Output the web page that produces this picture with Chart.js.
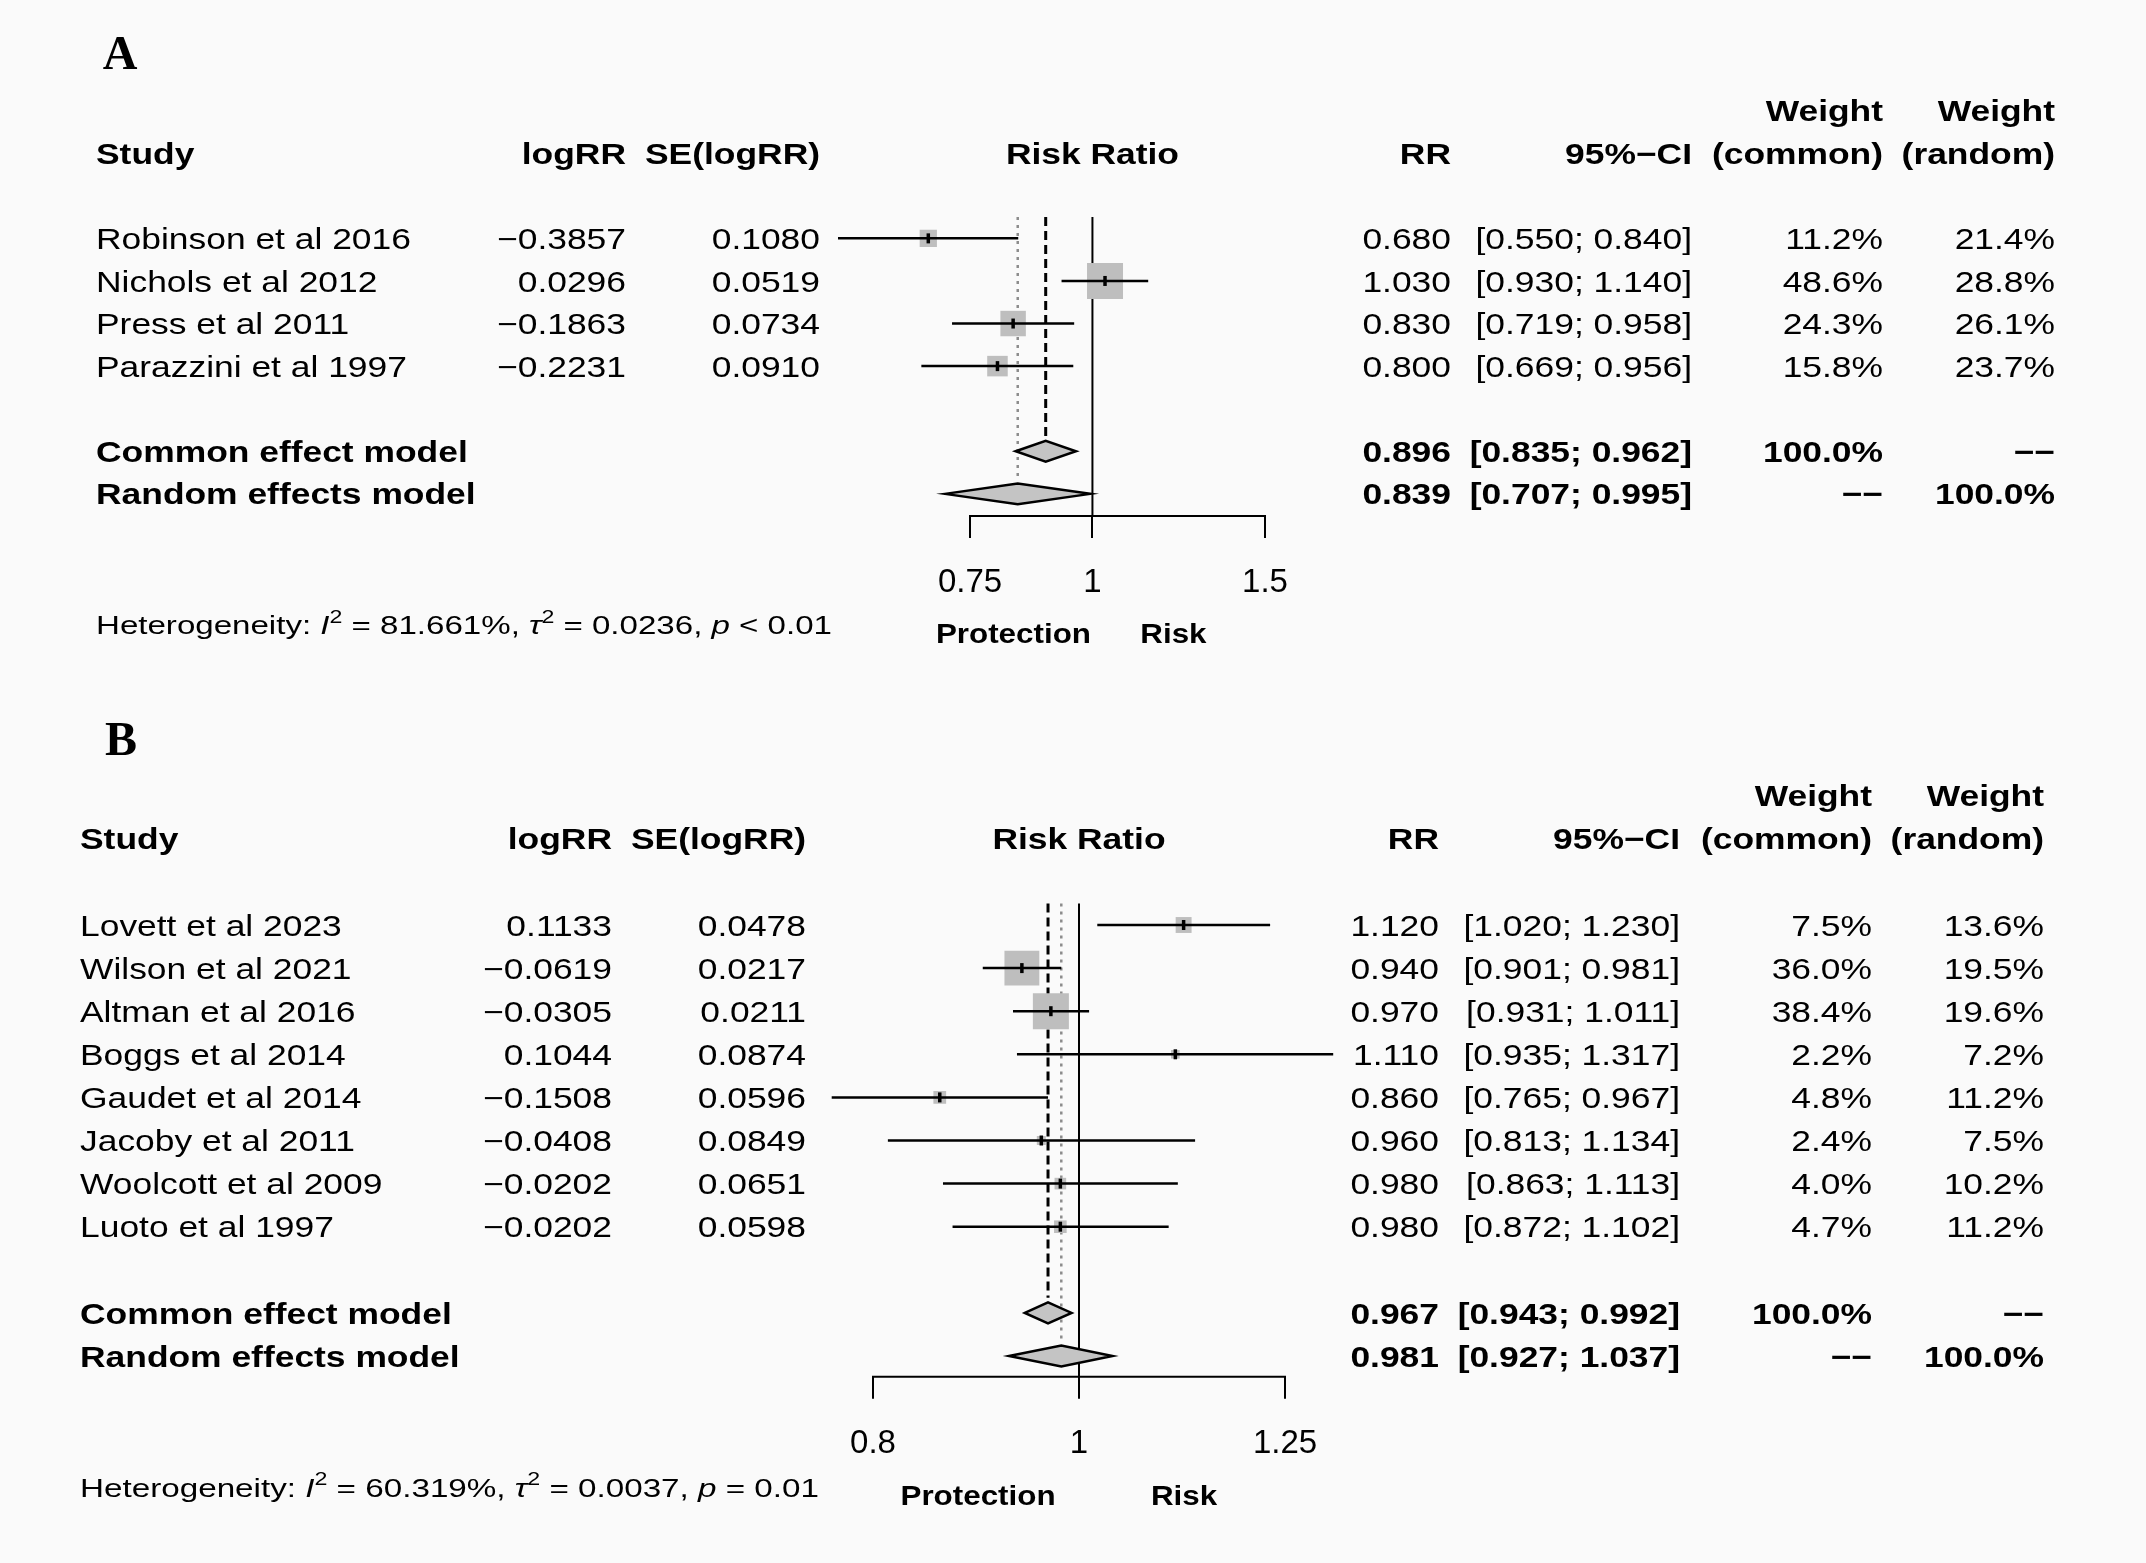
<!DOCTYPE html>
<html>
<head>
<meta charset="utf-8">
<script src="https://cdn.jsdelivr.net/npm/chart.js@4.4.0/dist/chart.umd.min.js"></script>
<style>
  html, body { margin: 0; padding: 0; background: #fafafa; }
  #wrap { position: relative; width: 2146px; height: 1563px; }
  #wrap canvas { position: absolute; left: 0; }
</style>
</head>
<body>
<div id="wrap">
  <canvas id="forest-a" width="2146" height="684" style="top:0px"></canvas>
  <canvas id="forest-b" width="2146" height="879" style="top:684px"></canvas>
</div>
<script>
// ---- A: 数据 ----
const studiesA = ['Robinson et al 2016', 'Nichols et al 2012', 'Press et al 2011', 'Parazzini et al 1997'];
const logRRA = [-0.3857, 0.0296, -0.1863, -0.2231];
const seA = [0.1080, 0.0519, 0.0734, 0.0910];
const rrA = [0.680, 1.030, 0.830, 0.800];
const lowerA = [0.550, 0.930, 0.719, 0.669];
const upperA = [0.840, 1.140, 0.958, 0.956];
const wCommonA = [11.2, 48.6, 24.3, 15.8];
const wRandomA = [21.4, 28.8, 26.1, 23.7];
const commonA = [0.896, 0.835, 0.962];   // 估计值, 下限, 上限
const randomA = [0.839, 0.707, 0.995];
const ticksA = [0.75, 1, 1.5];
const rangeA = [0.5, 1.6];               // 森林图列的 RR 范围
const hetA = ['81.661%', '0.0236', '< 0.01'];

// ---- B: 数据 ----
const studiesB = ['Lovett et al 2023', 'Wilson et al 2021', 'Altman et al 2016', 'Boggs et al 2014',
    'Gaudet et al 2014', 'Jacoby et al 2011', 'Woolcott et al 2009', 'Luoto et al 1997'];
const logRRB = [0.1133, -0.0619, -0.0305, 0.1044, -0.1508, -0.0408, -0.0202, -0.0202];
const seB = [0.0478, 0.0217, 0.0211, 0.0874, 0.0596, 0.0849, 0.0651, 0.0598];
const rrB = [1.120, 0.940, 0.970, 1.110, 0.860, 0.960, 0.980, 0.980];
const lowerB = [1.020, 0.901, 0.931, 0.935, 0.765, 0.813, 0.863, 0.872];
const upperB = [1.230, 0.981, 1.011, 1.317, 0.967, 1.134, 1.113, 1.102];
const wCommonB = [7.5, 36.0, 38.4, 2.2, 4.8, 2.4, 4.0, 4.7];
const wRandomB = [13.6, 19.5, 19.6, 7.2, 11.2, 7.5, 10.2, 11.2];
const commonB = [0.967, 0.943, 0.992];
const randomB = [0.981, 0.927, 1.037];
const ticksB = [0.8, 1, 1.25];
const rangeB = [0.7, 1.4];
const hetB = ['60.319%', '0.0037', '= 0.01'];

const pooledLabels = ['Common effect model', 'Random effects model'];

const FONT = '"Liberation Sans", Arial, Helvetica, sans-serif';
const SX = 1.2; // 原图文字横向偏宽
const DASH2 = '\u2212\u2212';

// 版面位置 (像素)
const layoutA = {
    letter: 'A', letterX: 120, letterY: 53, top: 0, height: 684,
    colStudy: 96, colLog: 626, colSE: 820, colRR: 1451, colCI: 1692, colWC: 1883, colWR: 2055,
    axisLeft: 970, axisRight: 1265, row0: 236.7, rowH: 42.84, axisY: 516,
    hetY: 625, hetW: 736, labY: 633, protDx: -79, riskDx: 81, boxMax: 36
};
const layoutB = {
    letter: 'B', letterX: 121, letterY: 739, top: 684, height: 879,
    colStudy: 80, colLog: 612, colSE: 806, colRR: 1439, colCI: 1680, colWC: 1872, colWR: 2044,
    axisLeft: 873, axisRight: 1285, row0: 925, rowH: 43.1, axisY: 1376.7,
    hetY: 1487.6, hetW: 739, labY: 1495, protDx: -101, riskDx: 105, boxMax: 36
};

function fmtNum(v, d) {
    const s = Math.abs(v).toFixed(d);
    return v < 0 ? '\u2212' + s : s;
}
function fmtCI(lo, hi) { return '[' + lo.toFixed(3) + '; ' + hi.toFixed(3) + ']'; }
function fmtW(w) { return w.toFixed(1) + '%'; }

// 画文字 (按行中心对齐)
function drawText(ctx, s, x, y, align, bold, size, sx) {
    size = size || 29.5;
    sx = sx || SX;
    ctx.save();
    ctx.font = (bold ? 'bold ' : '') + size + 'px ' + FONT;
    const w = ctx.measureText(s).width * sx;
    const x0 = align === 'right' ? x - w : (align === 'center' ? x - w / 2 : x);
    ctx.translate(x0, y + 0.36 * size);
    ctx.scale(sx, 1);
    ctx.textAlign = 'left';
    ctx.textBaseline = 'alphabetic';
    ctx.fillStyle = '#000';
    ctx.fillText(s, 0, 0);
    ctx.restore();
}

// 异质性一行 (含斜体与上标)
function drawHet(ctx, x, y, width, stats) {
    const size = 26;
    const parts = [
        { t: 'Heterogeneity: ' }, { t: 'I', it: true }, { t: '2', sup: true },
        { t: ' = ' + stats[0] + ', ' }, { t: '\u03c4', it: true }, { t: '2', sup: true },
        { t: ' = ' + stats[1] + ', ' }, { t: 'p', it: true }, { t: ' ' + stats[2] }
    ];
    ctx.save();
    let total = 0;
    parts.forEach(p => {
        ctx.font = (p.it ? 'italic ' : '') + (p.sup ? size * 0.7 : size) + 'px ' + FONT;
        p.w = ctx.measureText(p.t).width;
        total += p.w;
    });
    const sx = width / total;
    ctx.translate(x, y + 0.36 * size);
    ctx.scale(sx, 1);
    ctx.fillStyle = '#000';
    ctx.textBaseline = 'alphabetic';
    let cx = 0;
    parts.forEach(p => {
        ctx.font = (p.it ? 'italic ' : '') + (p.sup ? size * 0.7 : size) + 'px ' + FONT;
        ctx.fillText(p.t, cx, p.sup ? -size * 0.45 : 0);
        cx += p.w;
    });
    ctx.restore();
}

function makePlugin(P) {
    const L = P.lay;
    const n = P.studies.length;
    return {
        id: 'forestExtras',
        // 参考线: RR=1 实线, 固定效应虚线, 随机效应点线; 以及刻度范围内的轴线
        beforeDatasetsDraw(chart) {
            const ctx = chart.ctx, x = chart.scales.x, y = chart.scales.y;
            const top = y.getPixelForValue(-0.5);
            const bottom = chart.chartArea.bottom;
            const vline = (v, y2, w, dash, color) => {
                ctx.save();
                ctx.beginPath();
                ctx.setLineDash(dash);
                ctx.lineWidth = w;
                ctx.strokeStyle = color;
                const px = x.getPixelForValue(Math.log(v));
                ctx.moveTo(px, top);
                ctx.lineTo(px, y2);
                ctx.stroke();
                ctx.restore();
            };
            ctx.save();
            ctx.beginPath();
            ctx.lineWidth = 2;
            ctx.strokeStyle = '#000';
            ctx.lineCap = 'square';
            ctx.moveTo(x.getPixelForValue(Math.log(P.ticks[0])), bottom);
            ctx.lineTo(x.getPixelForValue(Math.log(P.ticks[P.ticks.length - 1])), bottom);
            ctx.stroke();
            ctx.restore();

            vline(1, bottom, 2, [], '#000');
            vline(P.random[0], y.getPixelForValue(n + 2 - 0.35), 2.5, [3, 5], '#8c8c8c');
            vline(P.common[0], y.getPixelForValue(n + 1 - 0.35), 3, [9, 5], '#000');
        },
        // 菱形 (合并效应)
        afterDatasetsDraw(chart) {
            const ctx = chart.ctx, x = chart.scales.x, y = chart.scales.y;
            const h = 0.245 * (y.getPixelForValue(1) - y.getPixelForValue(0));
            [[P.common, n + 1], [P.random, n + 2]].forEach(([est, row]) => {
                const cy = y.getPixelForValue(row);
                ctx.save();
                ctx.beginPath();
                ctx.moveTo(x.getPixelForValue(Math.log(est[1])), cy);
                ctx.lineTo(x.getPixelForValue(Math.log(est[0])), cy - h);
                ctx.lineTo(x.getPixelForValue(Math.log(est[2])), cy);
                ctx.lineTo(x.getPixelForValue(Math.log(est[0])), cy + h);
                ctx.closePath();
                ctx.fillStyle = '#c4c4c4';
                ctx.fill();
                ctx.lineWidth = 2.5;
                ctx.strokeStyle = '#000';
                ctx.stroke();
                ctx.restore();
            });
        },
        // 表格文字
        afterDraw(chart) {
            const ctx = chart.ctx, x = chart.scales.x, y = chart.scales.y;
            const ry = r => y.getPixelForValue(r);
            const x1 = x.getPixelForValue(0);

            ctx.save();
            ctx.font = 'bold 48px "Liberation Serif", "Times New Roman", serif';
            ctx.textAlign = 'center';
            ctx.textBaseline = 'alphabetic';
            ctx.fillStyle = '#000';
            ctx.fillText(L.letter, L.letterX, L.letterY - L.top + 16);
            ctx.restore();

            // 表头
            drawText(ctx, 'Weight', L.colWC, ry(-3), 'right', true);
            drawText(ctx, 'Weight', L.colWR, ry(-3), 'right', true);
            drawText(ctx, 'Study', L.colStudy, ry(-2), 'left', true);
            drawText(ctx, 'logRR', L.colLog, ry(-2), 'right', true);
            drawText(ctx, 'SE(logRR)', L.colSE, ry(-2), 'right', true);
            drawText(ctx, 'Risk Ratio', x1, ry(-2), 'center', true);
            drawText(ctx, 'RR', L.colRR, ry(-2), 'right', true);
            drawText(ctx, '95%\u2212CI', L.colCI, ry(-2), 'right', true);
            drawText(ctx, '(common)', L.colWC, ry(-2), 'right', true);
            drawText(ctx, '(random)', L.colWR, ry(-2), 'right', true);

            // 各研究
            P.studies.forEach((s, i) => {
                const yy = ry(i);
                drawText(ctx, s, L.colStudy, yy, 'left');
                drawText(ctx, fmtNum(P.logRR[i], 4), L.colLog, yy, 'right');
                drawText(ctx, P.se[i].toFixed(4), L.colSE, yy, 'right');
                drawText(ctx, P.rr[i].toFixed(3), L.colRR, yy, 'right');
                drawText(ctx, fmtCI(P.lower[i], P.upper[i]), L.colCI, yy, 'right');
                drawText(ctx, fmtW(P.wCommon[i]), L.colWC, yy, 'right');
                drawText(ctx, fmtW(P.wRandom[i]), L.colWR, yy, 'right');
            });

            // 合并结果
            [[P.common, '100.0%', DASH2], [P.random, DASH2, '100.0%']].forEach(([est, wc, wr], k) => {
                const yy = ry(n + 1 + k);
                drawText(ctx, pooledLabels[k], L.colStudy, yy, 'left', true);
                drawText(ctx, est[0].toFixed(3), L.colRR, yy, 'right', true);
                drawText(ctx, fmtCI(est[1], est[2]), L.colCI, yy, 'right', true);
                drawText(ctx, wc, L.colWC, yy, 'right', true);
                drawText(ctx, wr, L.colWR, yy, 'right', true);
            });

            drawHet(ctx, L.colStudy, L.hetY - L.top, L.hetW, P.het);
            drawText(ctx, 'Protection', x1 + L.protDx, L.labY - L.top, 'center', true, 28, 1.12);
            drawText(ctx, 'Risk', x1 + L.riskDx, L.labY - L.top, 'center', true, 28, 1.12);
        }
    };
}

function createForest(canvasId, P) {
    const L = P.lay;
    const maxW = Math.max(...P.wCommon);
    const pts = P.rr.map((r, i) => ({ x: Math.log(r), y: i }));

    const datasets = [];
    // 置信区间线
    P.rr.forEach((r, i) => {
        datasets.push({
            type: 'scatter',
            showLine: true,
            data: [{ x: Math.log(P.lower[i]), y: i }, { x: Math.log(P.upper[i]), y: i }],
            borderColor: '#000',
            borderWidth: 2.5,
            pointRadius: 0,
            clip: false,
            order: 1
        });
    });
    // 权重方块
    datasets.push({
        type: 'scatter',
        data: pts,
        pointStyle: 'rect',
        pointRadius: P.wCommon.map(w => L.boxMax * Math.sqrt(w / maxW) / Math.SQRT2),
        pointBackgroundColor: '#bebebe',
        pointBorderWidth: 0,
        clip: false,
        order: 2
    });
    // 点估计小竖线
    datasets.push({
        type: 'scatter',
        data: pts,
        pointStyle: 'line',
        pointRotation: 90,
        pointRadius: 5,
        pointBorderColor: '#000',
        pointBorderWidth: 3.5,
        clip: false,
        order: 0
    });

    // 森林图列: 刻度范围对齐到给定像素, 整列覆盖 range
    const t0 = Math.log(P.ticks[0]), t1 = Math.log(P.ticks[P.ticks.length - 1]);
    const xMin = Math.log(P.range[0]), xMax = Math.log(P.range[1]);
    const k = (L.axisRight - L.axisLeft) / (t1 - t0);
    const padLeft = L.axisLeft - k * (t0 - xMin);
    const padRight = 2146 - (L.axisRight + k * (xMax - t1));

    const padTop = L.row0 - L.top - 5 * L.rowH;
    const axisH = L.height - (L.axisY - L.top);

    return new Chart(document.getElementById(canvasId), {
        type: 'scatter',
        data: { datasets: datasets },
        options: {
            responsive: false,
            animation: false,
            events: [],
            layout: { padding: { left: padLeft, right: padRight, top: padTop, bottom: 0 } },
            scales: {
                x: {
                    type: 'linear',
                    min: xMin,
                    max: xMax,
                    afterBuildTicks: scale => {
                        scale.ticks = P.ticks.map(v => ({ value: Math.log(v) }));
                    },
                    afterFit: scale => { scale.height = axisH; },
                    grid: { display: true, drawOnChartArea: false, drawTicks: true, tickLength: 22, color: '#000', lineWidth: 2 },
                    border: { display: false },
                    ticks: {
                        autoSkip: false,
                        maxRotation: 0,
                        padding: 25,
                        color: '#000',
                        font: { family: FONT, size: 33 },
                        callback: (v, i) => String(P.ticks[i])
                    }
                },
                y: {
                    type: 'linear',
                    display: false,
                    reverse: true,
                    min: -5,
                    max: (L.axisY - L.row0) / L.rowH
                }
            },
            plugins: {
                legend: { display: false },
                tooltip: { enabled: false },
                title: { display: false }
            }
        },
        plugins: [makePlugin(P)]
    });
}

createForest('forest-a', {
    studies: studiesA, logRR: logRRA, se: seA, rr: rrA, lower: lowerA, upper: upperA,
    wCommon: wCommonA, wRandom: wRandomA, common: commonA, random: randomA,
    ticks: ticksA, range: rangeA, het: hetA, lay: layoutA
});
createForest('forest-b', {
    studies: studiesB, logRR: logRRB, se: seB, rr: rrB, lower: lowerB, upper: upperB,
    wCommon: wCommonB, wRandom: wRandomB, common: commonB, random: randomB,
    ticks: ticksB, range: rangeB, het: hetB, lay: layoutB
});
</script>
</body>
</html>
